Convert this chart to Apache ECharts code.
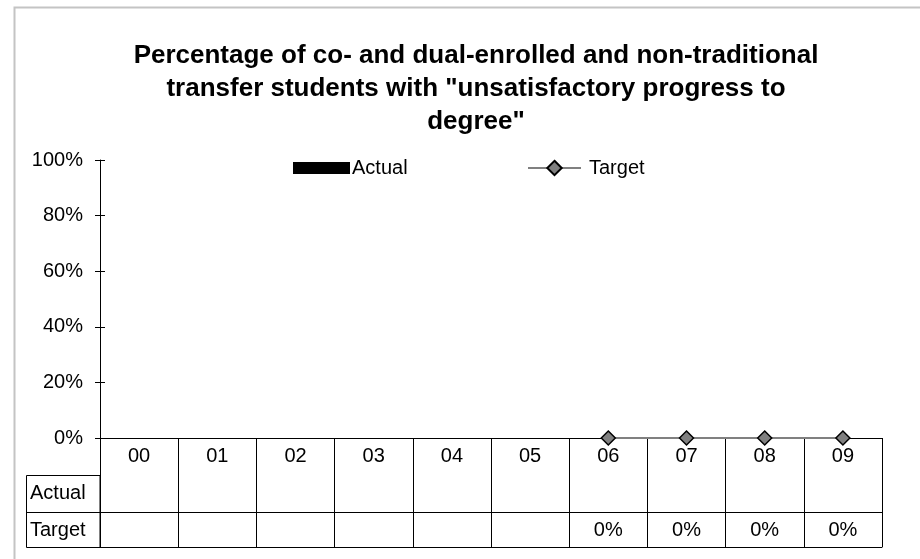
<!DOCTYPE html>
<html>
<head>
<meta charset="utf-8">
<script src="https://cdn.jsdelivr.net/npm/echarts@6/dist/echarts.min.js"></script>
<style>
  html, body { margin: 0; padding: 0; background: #fff; }
  #chart { width: 920px; height: 559px; }
</style>
</head>
<body>
<div id="chart"></div>
<script>
// chart data
var years = ["00", "01", "02", "03", "04", "05", "06", "07", "08", "09"];
var actual = [null, null, null, null, null, null, null, null, null, null];
var target = [null, null, null, null, null, null, 0, 0, 0, 0];
var yTicks = [0, 0.2, 0.4, 0.6, 0.8, 1];

var font = "Liberation Sans, Arial, sans-serif";

function pct(v) {
  return v == null ? "" : Math.round(v * 100) + "%";
}

var chart = echarts.init(document.getElementById("chart"));

// one extra x axis per table row, shifted down by offset
function rowAxis(offset, values) {
  return {
    type: "category",
    data: years,
    position: "bottom",
    offset: offset,
    axisLine: { show: true, lineStyle: { color: "#000", width: 1 } },
    axisTick: { show: false },
    axisLabel: {
      show: !!values,
      margin: 8,
      interval: 0,
      color: "#000",
      fontFamily: font,
      fontSize: 20,
      formatter: function (val, i) {
        return values ? pct(values[i]) : "";
      }
    }
  };
}

var option = {
  animation: false,
  backgroundColor: "#fff",
  title: {
    text: 'Percentage of co- and dual-enrolled and non-traditional\ntransfer students with "unsatisfactory progress to\ndegree"',
    left: 471,
    top: 34,
    textAlign: "center",
    textStyle: {
      fontFamily: font,
      fontSize: 26,
      fontWeight: "bold",
      color: "#000",
      lineHeight: 33
    }
  },
  legend: [
    {
      data: [{ name: "Actual", icon: "rect" }],
      left: 288,
      top: 153,
      padding: 5,
      itemWidth: 57,
      itemHeight: 12,
      textStyle: { fontFamily: font, fontSize: 20, color: "#000", padding: [0, 0, 0, -3] }
    },
    {
      data: [{ name: "Target", lineStyle: { color: "#808080", width: 2 } }],
      left: 522,
      top: 153,
      padding: 5,
      itemWidth: 53,
      itemHeight: 18,
      textStyle: { fontFamily: font, fontSize: 20, color: "#000", padding: [0, 0, 0, 3] }
    }
  ],
  grid: { left: 100, right: 38, top: 160, bottom: 121, containLabel: false },
  xAxis: [
    {
      type: "category",
      data: years,
      position: "bottom",
      axisLine: { show: true, lineStyle: { color: "#000", width: 1 } },
      axisTick: { show: true, interval: 0, length: 109, lineStyle: { color: "#000" } },
      axisLabel: {
        interval: 0,
        margin: 8,
        color: "#000",
        fontFamily: font,
        fontSize: 20
      }
    },
    rowAxis(37, actual),
    rowAxis(74, target),
    rowAxis(109, null)
  ],
  yAxis: [
    {
      type: "value",
      min: 0,
      max: 1,
      interval: 0.2,
      axisLine: { show: true, lineStyle: { color: "#000" } },
      axisTick: { show: true, length: 5, lineStyle: { color: "#000" } },
      splitLine: { show: false },
      axisLabel: {
        margin: 17,
        color: "#000",
        fontFamily: font,
        fontSize: 20,
        formatter: function (v) { return pct(v); }
      }
    },
    {
      type: "value",
      min: 0,
      max: 1,
      interval: 0.2,
      position: "left",
      axisLine: { show: false },
      axisTick: { show: true, inside: true, length: 5, lineStyle: { color: "#000" } },
      splitLine: { show: false },
      axisLabel: { show: false }
    }
  ],
  series: [
    {
      name: "Actual",
      type: "bar",
      data: actual,
      itemStyle: { color: "#000" }
    },
    {
      name: "Target",
      type: "line",
      data: target,
      symbol: "diamond",
      symbolSize: 14,
      showAllSymbol: true,
      connectNulls: false,
      lineStyle: { color: "#808080", width: 2 },
      itemStyle: { color: "#808080", borderColor: "#000", borderWidth: 1.5 }
    }
  ],
  graphic: [
    {
      type: "rect",
      shape: { x: 14.5, y: 7.5, width: 930, height: 570 },
      style: { fill: null, stroke: "#c4c4c4", lineWidth: 2 },
      silent: true
    },
    {
      type: "rect",
      shape: { x: 26.5, y: 475.5, width: 73.5, height: 72 },
      style: { fill: null, stroke: "#000", lineWidth: 1 },
      silent: true
    },
    {
      type: "line",
      shape: { x1: 26.5, y1: 512.5, x2: 100, y2: 512.5 },
      style: { stroke: "#000", lineWidth: 1 },
      silent: true
    },
    {
      type: "text",
      left: 30,
      top: 483,
      style: { text: "Actual", font: "20px " + font, fill: "#000" }
    },
    {
      type: "text",
      left: 30,
      top: 520,
      style: { text: "Target", font: "20px " + font, fill: "#000" }
    }
  ]
};

chart.setOption(option);
window.addEventListener("resize", function () {
  chart.resize();
});
</script>
</body>
</html>
